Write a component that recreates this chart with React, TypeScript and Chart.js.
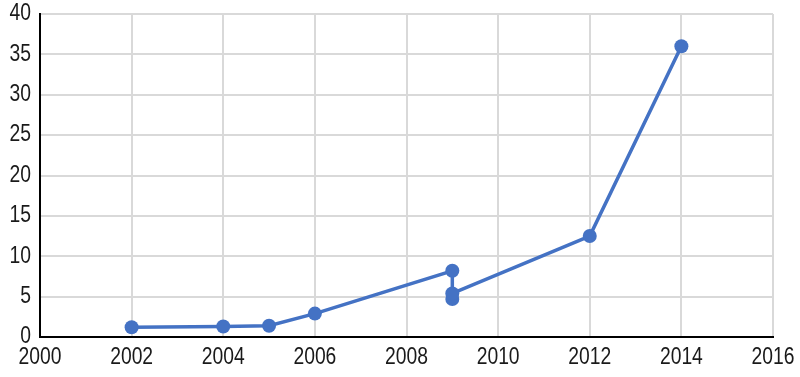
import React, { useEffect, useRef } from "react";
import { Chart, registerables } from "chart.js";

Chart.register(...registerables);

const years = [2002, 2004, 2005, 2006, 2009, 2009, 2009, 2012, 2014];
const values = [1.2, 1.3, 1.4, 2.9, 8.2, 4.7, 5.4, 12.5, 36];

const xMin = 2000;
const xMax = 2016;
const xStep = 2;
const yMin = 0;
const yMax = 40;
const yStep = 5;

const FONT = "23px 'Liberation Sans', Arial, sans-serif";
const SQUEEZE = 0.84;
const TEXT_COLOR = "#1a1a1a";

const condensedTicks = {
  id: "condensedTicks",
  afterDraw(chart: any) {
    const ctx = chart.ctx as CanvasRenderingContext2D;
    const xs = chart.scales.x;
    const ys = chart.scales.y;
    ctx.save();
    ctx.font = FONT;
    ctx.fillStyle = TEXT_COLOR;
    ctx.textBaseline = "middle";
    // y labels, right aligned
    ctx.textAlign = "right";
    for (const t of ys.ticks) {
      const py = ys.getPixelForValue(t.value);
      ctx.save();
      ctx.translate(31, py);
      ctx.scale(SQUEEZE, 1);
      ctx.fillText(String(t.value), 0, 0);
      ctx.restore();
    }
    // x labels, centered
    ctx.textAlign = "center";
    for (const t of xs.ticks) {
      const px = xs.getPixelForValue(t.value);
      ctx.save();
      ctx.translate(px, xs.bottom - 40 + 21);
      ctx.scale(SQUEEZE, 1);
      ctx.fillText(String(t.value), 0, 0);
      ctx.restore();
    }
    ctx.restore();
  },
};

export default function App() {
  const ref = useRef<HTMLCanvasElement | null>(null);
  useEffect(() => {
    document.body.style.margin = "0";
    const ctx = ref.current!;
    const chart = new Chart(ctx, {
      type: "scatter",
      data: {
        datasets: [
          {
            data: years.map((x, i) => ({ x, y: values[i] })),
            showLine: true,
            borderColor: "#4472C4",
            backgroundColor: "#4472C4",
            borderWidth: 3.5,
            pointRadius: 7,
            pointHoverRadius: 7,
            pointBorderWidth: 0,
          },
        ],
      },
      options: {
        animation: false,
        responsive: false,
        maintainAspectRatio: false,
        layout: { padding: { top: 14, right: 27, left: 0, bottom: 0 } },
        plugins: { legend: { display: false }, tooltip: { enabled: false } },
        scales: {
          x: {
            type: "linear",
            min: xMin,
            max: xMax,
            ticks: { stepSize: xStep, display: false },
            grid: { color: "#d9d9d9", lineWidth: 2, drawTicks: false },
            border: { color: "#000", width: 2 },
            afterFit: (s: any) => { s.height = 40; },
          },
          y: {
            min: yMin,
            max: yMax,
            ticks: { stepSize: yStep, display: false },
            grid: { color: "#d9d9d9", lineWidth: 2, drawTicks: false },
            border: { color: "#000", width: 2 },
            afterFit: (s: any) => { s.width = 40; },
          },
        },
      },
      plugins: [condensedTicks],
    });
    return () => chart.destroy();
  }, []);
  return (
    <div style={{ width: 800, height: 377 }}>
      <canvas ref={ref} width={800} height={377} style={{ display: "block" }} />
    </div>
  );
}
